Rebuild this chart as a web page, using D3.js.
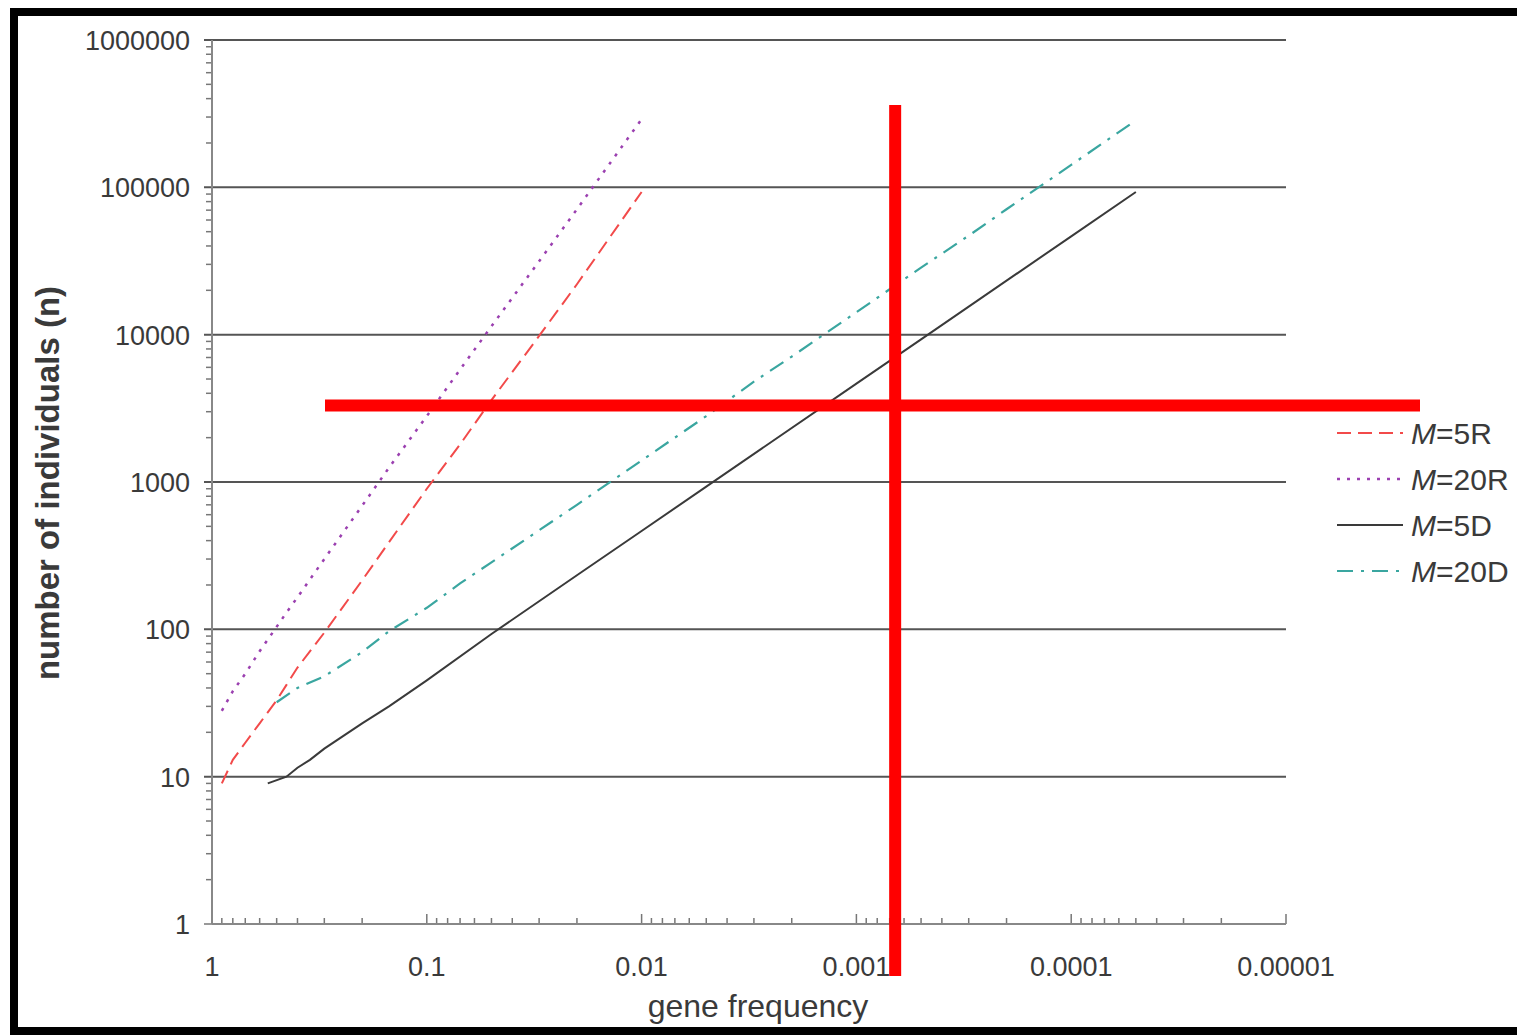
<!DOCTYPE html>
<html>
<head>
<meta charset="utf-8">
<script src="https://cdn.jsdelivr.net/npm/d3@7"></script>
<style>
  body { margin: 0; background: #fff; }
  svg { display: block; font-family: "Liberation Sans", Arial, sans-serif; }
  .tick-label { font-size: 27px; fill: #3a3a3a; }
</style>
</head>
<body>
<div id="chart"></div>
<script>
(function(d3) {
'use strict';

// gene frequency (x) and number of individuals (y) per curve
var freq5R  = [0.9, 0.8, 0.7, 0.6, 0.5, 0.45, 0.4, 0.3, 0.2, 0.15, 0.1, 0.07, 0.05, 0.03, 0.02, 0.01];
var n5R     = [9, 13, 17, 23, 33, 42, 55, 95, 215, 390, 900, 1800, 3600, 9800, 22000, 93000];

var freq20R = [0.9, 0.8, 0.7, 0.6, 0.5, 0.45, 0.4, 0.3, 0.2, 0.15, 0.1, 0.07, 0.05, 0.03, 0.02, 0.01];
var n20R    = [28, 38, 50, 71, 104, 130, 165, 300, 690, 1250, 2800, 5800, 11400, 31500, 71000, 290000];

var freq5D  = [0.55, 0.45, 0.4, 0.35, 0.3, 0.2, 0.15, 0.1, 0.05, 0.03, 0.02, 0.01, 0.005, 0.001, 0.0005, 0.0001, 0.00005];
var n5D     = [9, 10, 11.5, 13, 15.5, 23, 30, 45, 93, 155, 233, 465, 930, 4650, 9300, 46500, 93000];

var freq20D = [0.5, 0.4, 0.3, 0.2, 0.15, 0.1, 0.07, 0.05, 0.03, 0.02, 0.01, 0.005, 0.003, 0.002, 0.001, 0.0005, 0.0003, 0.0002, 0.0001, 0.00005];
var n20D    = [32, 40, 48, 70, 97, 140, 205, 285, 470, 700, 1400, 2800, 4800, 7100, 14200, 28500, 47000, 71000, 142000, 285000];

var xTicks = [1, 0.1, 0.01, 0.001, 0.0001, 0.00001];
var xTickLabels = ['1', '0.1', '0.01', '0.001', '0.0001', '0.00001'];
var yTicks = [1, 10, 100, 1000, 10000, 100000, 1000000];

var seriesLabels = ['5R', '20R', '5D', '20D'];

// the red crosshair drawn over the picture (frequency, individuals)
var crossFreq = 0.00066;
var crossN = 3300;

var width = 1517, height = 1035;
var left = 212, right = 1286, top = 40, bottom = 924;

var x = d3.scaleLog().domain([1, 0.00001]).range([left, right]);
var y = d3.scaleLog().domain([1, 1000000]).range([bottom, top]);

var svg = d3.select('#chart').append('svg')
  .attr('width', width)
  .attr('height', height);

// outer frame
svg.append('rect')
  .attr('x', 14).attr('y', 12)
  .attr('width', 1600).attr('height', 1019)
  .attr('fill', 'none')
  .attr('stroke', '#000')
  .attr('stroke-width', 8);

// minor ticks on y
var yMinor = [];
yTicks.slice(0, -1).forEach(function(t) {
  for (var k = 2; k <= 9; k++) yMinor.push(t * k);
});
svg.append('g').selectAll('line').data(yMinor).enter().append('line')
  .attr('x1', left - 6).attr('x2', left)
  .attr('y1', function(d) { return y(d); })
  .attr('y2', function(d) { return y(d); })
  .attr('stroke', '#777').attr('stroke-width', 1.5);

// gridlines and major y ticks
svg.append('g').selectAll('line').data(yTicks.slice(1)).enter().append('line')
  .attr('x1', left - 8).attr('x2', right)
  .attr('y1', function(d) { return y(d); })
  .attr('y2', function(d) { return y(d); })
  .attr('stroke', '#555').attr('stroke-width', 2);

svg.append('line')
  .attr('x1', left - 8).attr('x2', left)
  .attr('y1', y(1)).attr('y2', y(1))
  .attr('stroke', '#777').attr('stroke-width', 1.5);

svg.append('g').selectAll('text').data(yTicks).enter().append('text')
  .attr('class', 'tick-label')
  .attr('x', left - 22)
  .attr('y', function(d) { return y(d) + 10; })
  .attr('text-anchor', 'end')
  .text(function(d) { return d; });

// x minor ticks, pointing up
var xMinor = [];
xTicks.slice(1).forEach(function(t) {
  for (var k = 2; k <= 9; k++) xMinor.push(t * k);
});
svg.append('g').selectAll('line').data(xMinor).enter().append('line')
  .attr('x1', function(d) { return x(d); })
  .attr('x2', function(d) { return x(d); })
  .attr('y1', bottom - 6).attr('y2', bottom)
  .attr('stroke', '#777').attr('stroke-width', 1.5);

svg.append('g').selectAll('line').data(xTicks.slice(1)).enter().append('line')
  .attr('x1', function(d) { return x(d); })
  .attr('x2', function(d) { return x(d); })
  .attr('y1', bottom - 10).attr('y2', bottom)
  .attr('stroke', '#777').attr('stroke-width', 1.5);

// axis lines
svg.append('line')
  .attr('x1', left).attr('x2', left).attr('y1', top).attr('y2', bottom)
  .attr('stroke', '#888').attr('stroke-width', 2);
svg.append('line')
  .attr('x1', left).attr('x2', right).attr('y1', bottom).attr('y2', bottom)
  .attr('stroke', '#888').attr('stroke-width', 2);

svg.append('g').selectAll('text').data(xTicks).enter().append('text')
  .attr('class', 'tick-label')
  .attr('x', function(d) { return x(d); })
  .attr('y', bottom + 52)
  .attr('text-anchor', 'middle')
  .text(function(d, i) { return xTickLabels[i]; });

// axis titles
svg.append('text')
  .attr('x', 758).attr('y', 1017)
  .attr('text-anchor', 'middle')
  .attr('font-size', 32)
  .attr('fill', '#3a3a3a')
  .text('gene frequency');

svg.append('text')
  .attr('transform', 'translate(59,483) rotate(-90)')
  .attr('text-anchor', 'middle')
  .attr('font-size', 33)
  .attr('font-weight', 'bold')
  .attr('fill', '#3a3a3a')
  .text('number of individuals (n)');

// curves
var series = [
  { f: freq5R,  n: n5R,  color: '#f24a4a', dash: '14,7',      w: 2 },
  { f: freq20R, n: n20R, color: '#9b40b0', dash: '3,7',       w: 2.5 },
  { f: freq5D,  n: n5D,  color: '#3a3a3a', dash: null,        w: 2 },
  { f: freq20D, n: n20D, color: '#3aa6a0', dash: '16,8,3,8',  w: 2.2 }
];

var line = d3.line()
  .x(function(d) { return x(d[0]); })
  .y(function(d) { return y(d[1]); });

series.forEach(function(s) {
  svg.append('path')
    .datum(d3.zip(s.f, s.n))
    .attr('d', line)
    .attr('fill', 'none')
    .attr('stroke', s.color)
    .attr('stroke-width', s.w)
    .attr('stroke-dasharray', s.dash);
});

// legend
var legend = svg.append('g').attr('transform', 'translate(1337,433)');
series.forEach(function(s, i) {
  var g = legend.append('g').attr('transform', 'translate(0,' + (i * 46) + ')');
  g.append('line')
    .attr('x1', 0).attr('x2', 66).attr('y1', 0).attr('y2', 0)
    .attr('stroke', s.color)
    .attr('stroke-width', s.w)
    .attr('stroke-dasharray', s.dash);
  var t = g.append('text')
    .attr('x', 74).attr('y', 11)
    .attr('font-size', 30)
    .attr('fill', '#3a3a3a');
  t.append('tspan').attr('font-style', 'italic').text('M');
  t.append('tspan').text('=' + seriesLabels[i]);
});

// red crosshair
svg.append('line')
  .attr('x1', x(crossFreq)).attr('x2', x(crossFreq))
  .attr('y1', 105).attr('y2', 976)
  .attr('stroke', '#ff0000').attr('stroke-width', 12);
svg.append('line')
  .attr('x1', 325).attr('x2', 1420)
  .attr('y1', y(crossN)).attr('y2', y(crossN))
  .attr('stroke', '#ff0000').attr('stroke-width', 12);

})(window.d3);
</script>
</body>
</html>
